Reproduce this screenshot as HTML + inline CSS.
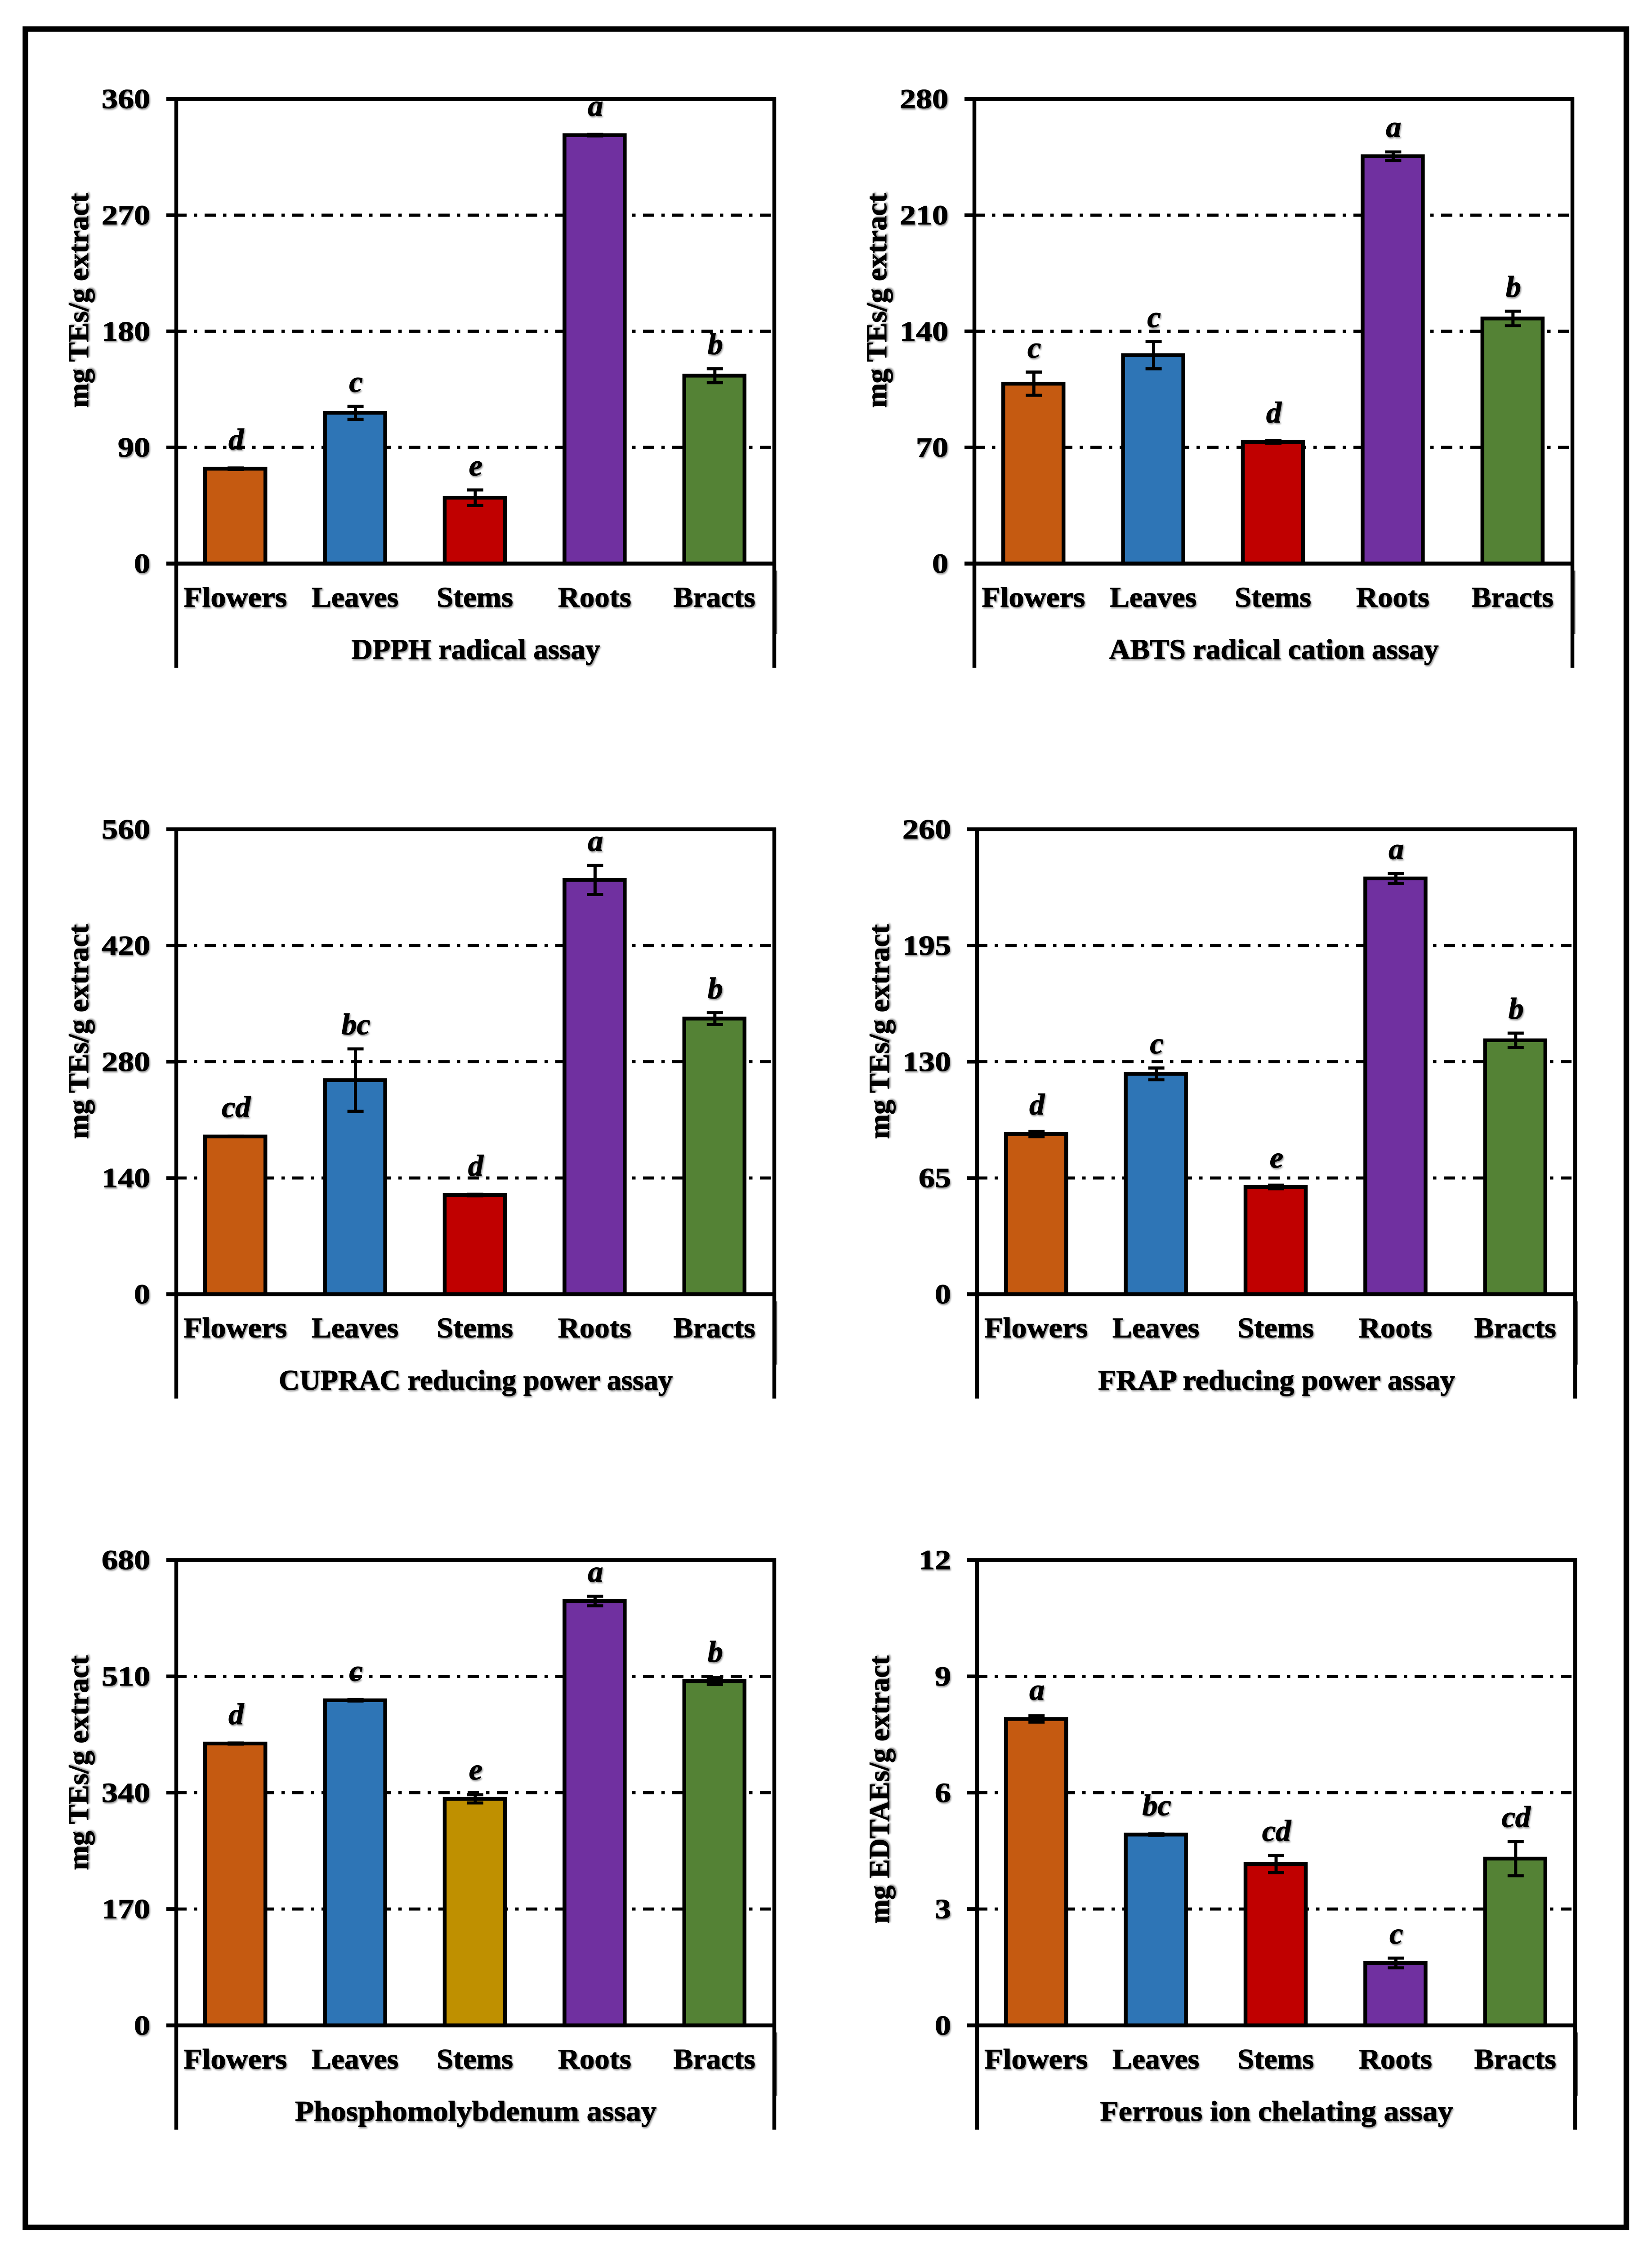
<!DOCTYPE html>
<html lang="en">
<head>
<meta charset="utf-8">
<title>Antioxidant assays by plant part</title>
<style>
html,body{margin:0;padding:0;background:#fff;width:3674px;height:100vh;overflow:hidden;}
svg{display:block;position:absolute;left:0;top:0;width:3674px;height:100vh;overflow:hidden;}
script{display:none;}
text{font-family:"Liberation Serif",serif;font-weight:bold;fill:#000;stroke:#000;stroke-width:1.1px;}
</style>
</head>
<body>
<svg id="figure" xmlns="http://www.w3.org/2000/svg" viewBox="0 0 3674 5110" preserveAspectRatio="none">
<defs>
<filter id="soft" x="-10%" y="-20%" width="120%" height="150%">
<feDropShadow dx="2" dy="3" stdDeviation="1.6" flood-color="#000" flood-opacity="0.4"/>
</filter>
</defs>
<rect x="0" y="0" width="3674" height="5110" fill="#ffffff"/>
<rect x="56.5" y="66" width="3560.5" height="4997" fill="none" stroke="#000" stroke-width="12.5"/>
</svg>
<script>
const categories = ['Flowers', 'Leaves', 'Stems', 'Roots', 'Bracts'];

const dpphTicks = [0, 90, 180, 270, 360];
const dpphValues = [73.5, 116.8, 51, 332, 145.6];
const dpphErrors = [0.6, 5, 6, 0.6, 5.4];
const dpphLetters = ['d', 'c', 'e', 'a', 'b'];

const abtsTicks = [0, 70, 140, 210, 280];
const abtsValues = [108.4, 125.6, 73.3, 245.5, 147.7];
const abtsErrors = [7, 8.2, 0.8, 2.6, 4.4];
const abtsLetters = ['c', 'c', 'd', 'a', 'b'];

const cupracTicks = [0, 140, 280, 420, 560];
const cupracValues = [190, 257.9, 119.5, 499, 332];
const cupracErrors = [0.3, 37.6, 1, 17.5, 7];
const cupracLetters = ['cd', 'bc', 'd', 'a', 'b'];

const frapTicks = [0, 65, 130, 195, 260];
const frapValues = [89.6, 123.2, 60, 232.5, 142];
const frapErrors = [1.5, 3.3, 1, 2.8, 4];
const frapLetters = ['d', 'c', 'e', 'a', 'b'];

const phosphoTicks = [0, 170, 340, 510, 680];
const phosphoValues = [411.8, 475, 331, 620, 503];
const phosphoErrors = [0.8, 1, 6, 7, 5];
const phosphoLetters = ['d', 'c', 'e', 'a', 'b'];

const ferrousTicks = [0, 3, 6, 9, 12];
const ferrousValues = [7.9, 4.92, 4.16, 1.61, 4.3];
const ferrousErrors = [0.08, 0.02, 0.22, 0.125, 0.44];
const ferrousLetters = ['a', 'bc', 'cd', 'c', 'cd'];

const COLORS = {orange: '#C55A11', blue: '#2E75B6', red: '#C00000', purple: '#7030A0', green: '#548235', gold: '#BF9000'};
const CAT_WIDTH = {Flowers: 230, Leaves: 193, Stems: 170, Roots: 163, Bracts: 182};

const panels = [
  {id: 'dpph', title: 'DPPH radical assay', titleW: 553, yTitle: 'mg TEs/g extract', yTitleW: 488, yTitleOff: 458, left: 390, top: 225, bottom: 1281,
   ticks: dpphTicks, values: dpphValues, errors: dpphErrors, letters: dpphLetters,
   fills: [COLORS.orange, COLORS.blue, COLORS.red, COLORS.purple, COLORS.green]},
  {id: 'abts', title: 'ABTS radical cation assay', titleW: 733, yTitle: 'mg TEs/g extract', yTitleW: 488, yTitleOff: 458, left: 2165, top: 225, bottom: 1281,
   ticks: abtsTicks, values: abtsValues, errors: abtsErrors, letters: abtsLetters,
   fills: [COLORS.orange, COLORS.blue, COLORS.red, COLORS.purple, COLORS.green]},
  {id: 'cuprac', title: 'CUPRAC reducing power assay', titleW: 876, yTitle: 'mg TEs/g extract', yTitleW: 488, yTitleOff: 460, left: 390, top: 1885, bottom: 2942,
   ticks: cupracTicks, values: cupracValues, errors: cupracErrors, letters: cupracLetters,
   fills: [COLORS.orange, COLORS.blue, COLORS.red, COLORS.purple, COLORS.green]},
  {id: 'frap', title: 'FRAP reducing power assay', titleW: 794, yTitle: 'mg TEs/g extract', yTitleW: 488, yTitleOff: 460, left: 2171, top: 1885, bottom: 2942,
   ticks: frapTicks, values: frapValues, errors: frapErrors, letters: frapLetters,
   fills: [COLORS.orange, COLORS.blue, COLORS.red, COLORS.purple, COLORS.green]},
  {id: 'phospho', title: 'Phosphomolybdenum assay', titleW: 804, yTitle: 'mg TEs/g extract', yTitleW: 488, yTitleOff: 461, left: 390, top: 3546, bottom: 4604,
   ticks: phosphoTicks, values: phosphoValues, errors: phosphoErrors, letters: phosphoLetters,
   fills: [COLORS.orange, COLORS.blue, COLORS.gold, COLORS.purple, COLORS.green]},
  {id: 'ferrous', title: 'Ferrous ion chelating assay', titleW: 785, yTitle: 'mg EDTAEs/g extract', yTitleW: 609, yTitleOff: 522, left: 2171, top: 3546, bottom: 4604,
   ticks: ferrousTicks, values: ferrousValues, errors: ferrousErrors, letters: ferrousLetters,
   fills: [COLORS.orange, COLORS.blue, COLORS.red, COLORS.purple, COLORS.green]}
];

const PLOT_W = 1332;
const BAR_W = 134;
const SVG_NS = 'http://www.w3.org/2000/svg';
const svg = document.getElementById('figure');

function make(parent, tag, attrs, content) {
  const node = document.createElementNS(SVG_NS, tag);
  Object.keys(attrs).forEach(function (k) { node.setAttribute(k, attrs[k]); });
  if (content !== undefined) node.textContent = content;
  parent.appendChild(node);
  return node;
}

panels.forEach(function (p) {
  const right = p.left + PLOT_W;
  const maxV = p.ticks[p.ticks.length - 1];
  const yScale = function (v) { return p.bottom - (v / maxV) * (p.bottom - p.top); };
  const xScale = function (i) { return p.left + (i + 0.5) * (PLOT_W / categories.length); };

  const g = make(svg, 'g', {});
  
  

  p.ticks.forEach(function (t, i) {
    const y = yScale(t);
    if (i > 0 && i < p.ticks.length - 1) {
      const grid = make(g, 'line', {x1: p.left, x2: right - 8, y1: y, y2: y, stroke: '#000', 'stroke-width': 7, 'stroke-dasharray': '25 16 7.5 16.5'});
      
      
    }
    const tick = make(g, 'line', {x1: p.left - 20, x2: p.left, y1: y, y2: y, stroke: '#000', 'stroke-width': 8});
    
    
    const lab = String(t);
    const tickLabel = make(g, 'text', {x: p.left - 56, y: y + 21, 'text-anchor': 'end', 'font-size': 63, textLength: lab.length * 36, lengthAdjust: 'spacingAndGlyphs', filter: 'url(#soft)'}, lab);
    
    
  });

  const frameLeft = make(g, 'line', {x1: p.left + 2, x2: p.left + 2, y1: p.top - 4, y2: p.bottom + 237, stroke: '#000', 'stroke-width': 8.5});
  
  
  const frameRightShade = make(g, 'line', {x1: right + 3, x2: right + 3, y1: p.bottom + 16, y2: p.bottom + 160, stroke: '#666', 'stroke-width': 7});
  
  
  const frameRight = make(g, 'line', {x1: right, x2: right, y1: p.top - 4, y2: p.bottom + 237, stroke: '#000', 'stroke-width': 8.5});
  
  
  const frameTop = make(g, 'line', {x1: p.left - 20, x2: right + 4, y1: p.top, y2: p.top, stroke: '#000', 'stroke-width': 8.5});
  
  

  categories.forEach(function (cat, i) {
    const cx = xScale(i);
    const v = p.values[i];
    const e = p.errors[i];
    const yTop = yScale(v);
    const bar = make(g, 'rect', {x: cx - BAR_W / 2, y: yTop, width: BAR_W, height: p.bottom - yTop, fill: p.fills[i], stroke: '#000', 'stroke-width': 8.5});
    
    

    const yHi = yScale(v + e);
    const yLo = yScale(v - e);
    const stem = make(g, 'line', {x1: cx + 1, x2: cx + 1, y1: yHi, y2: yLo, stroke: '#000', 'stroke-width': 7});
    
    
    const capHi = make(g, 'line', {x1: cx - 17, x2: cx + 19, y1: yHi, y2: yHi, stroke: '#000', 'stroke-width': 7});
    
    
    const capLo = make(g, 'line', {x1: cx - 17, x2: cx + 19, y1: yLo, y2: yLo, stroke: '#000', 'stroke-width': 7});
    
    

    const catLabel = make(g, 'text', {x: cx, y: p.bottom + 98, 'text-anchor': 'middle', 'font-size': 65, textLength: CAT_WIDTH[cat], lengthAdjust: 'spacingAndGlyphs', filter: 'url(#soft)'}, cat);
    
    

    const gap = Math.max(44, (yTop - yHi) + 33);
    const letter = make(g, 'text', {x: cx + 2, y: yTop - gap, 'text-anchor': 'middle', 'font-size': 68, 'font-style': 'italic', filter: 'url(#soft)'}, p.letters[i]);
    
    
  });

  const xAxis = make(g, 'line', {x1: p.left - 20, x2: right + 4, y1: p.bottom, y2: p.bottom, stroke: '#000', 'stroke-width': 9});
  
  

  const title = make(g, 'text', {x: p.left + PLOT_W / 2 + 2, y: p.bottom + 217, 'text-anchor': 'middle', 'font-size': 65, textLength: p.titleW, lengthAdjust: 'spacingAndGlyphs', filter: 'url(#soft)'}, p.title);
  
  

  const yc = p.top + p.yTitleOff;
  const xb = p.left - 194;
  const yTitle = make(g, 'text', {x: xb, y: yc, transform: 'rotate(-90 ' + xb + ' ' + yc + ')', 'text-anchor': 'middle', 'font-size': 65, textLength: p.yTitleW, lengthAdjust: 'spacingAndGlyphs', filter: 'url(#soft)'}, p.yTitle);
  
  
});
</script>
</body>
</html>
